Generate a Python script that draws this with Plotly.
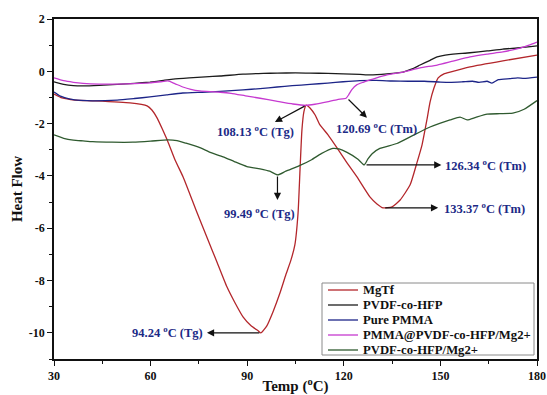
import plotly.graph_objects as go

# ---------------- data ----------------
mgtf_x = [30, 32.5, 36.5, 42.1, 53.6, 58.9, 60.4, 62.0, 63.5, 65.4, 67.6, 70.1, 72.9, 75.3, 77.8,
          80.6, 83.7, 86.2, 88.7, 91.2, 93.4, 94.24, 96.1, 98.0, 100.2, 102.0, 103.6, 104.8, 105.8,
          106.4, 107.0, 107.6, 108.3, 109.5, 111.1, 112.6, 115.1, 117.9, 121.0, 124.1, 128.1,
          130.3, 132.2, 135.0, 137.5, 140.6, 142.7, 144.3, 145.8, 146.8, 148.0, 149.3, 151.1,
          153.0, 159.2, 169.4, 180.0]
mgtf_y = [-0.87, -1.02, -1.10, -1.13, -1.21, -1.32, -1.48, -1.78, -2.17, -2.70, -3.39, -4.04, -4.92,
          -5.68, -6.44, -7.29, -8.24, -8.85, -9.39, -9.73, -9.92, -10.0, -9.73, -9.20, -8.47, -7.78,
          -7.21, -6.64, -5.41, -3.77, -2.24, -1.55, -1.29, -1.40, -1.67, -2.05, -2.43, -2.93, -3.50,
          -4.04, -4.80, -5.07, -5.22, -5.18, -4.92, -4.34, -3.50, -2.81, -1.86, -1.17, -0.64, -0.25,
          -0.10, -0.03, 0.17, 0.40, 0.62]

pvdf_x = [30, 33, 36, 39, 44, 49.6, 55, 59.8, 64, 67, 72, 77, 81.6, 88.7, 95, 99.3, 105, 109.5,
          115, 119.8, 125, 128.1, 133.4, 138.4, 141, 143.7, 146.8, 149, 151.5, 153.9, 159.2,
          164.5, 169.4, 174.7, 180]
pvdf_y = [-0.40, -0.50, -0.55, -0.56, -0.54, -0.50, -0.46, -0.41, -0.35, -0.30, -0.25, -0.21,
          -0.18, -0.11, -0.08, -0.07, -0.06, -0.07, -0.08, -0.10, -0.12, -0.14, -0.10, -0.03,
          0.08, 0.24, 0.42, 0.55, 0.62, 0.66, 0.71, 0.78, 0.85, 0.90, 0.97]

pmma_x = [30, 32, 35, 38.5, 42, 49.6, 55, 59.8, 65, 70, 76, 81.6, 88.7, 94, 99.3, 104, 109.5, 115,
          119.8, 125, 130, 135, 140, 145, 150, 153, 157, 160, 162, 164.5, 166, 168, 171.6, 174,
          176, 180]
pmma_y = [-0.79, -0.95, -1.06, -1.11, -1.13, -1.10, -1.04, -0.98, -0.90, -0.83, -0.80, -0.77,
          -0.71, -0.66, -0.60, -0.55, -0.50, -0.45, -0.40, -0.36, -0.35, -0.37, -0.38, -0.38,
          -0.41, -0.42, -0.40, -0.38, -0.42, -0.38, -0.45, -0.32, -0.28, -0.25, -0.27, -0.22]

blend_x = [30, 33, 36, 39, 44, 49.6, 55, 59.8, 63, 65.4, 67.5, 70, 72.5, 75.3, 78.5, 81.6, 85, 90,
           94, 99, 104.2, 108.13, 111, 114.8, 118, 120.69, 121.5, 122.5, 124, 126, 128.1, 130.2,
           133.4, 138.4, 143.7, 149, 153.9, 159.2, 164.5, 169.4, 174.7, 177.5, 180]
blend_y = [-0.25, -0.36, -0.42, -0.46, -0.49, -0.49, -0.47, -0.44, -0.40, -0.37, -0.47, -0.60,
           -0.69, -0.75, -0.78, -0.80, -0.84, -0.95, -1.03, -1.14, -1.25, -1.30, -1.26, -1.17,
           -1.08, -1.03, -0.90, -0.70, -0.52, -0.42, -0.33, -0.25, -0.14, -0.03, 0.13, 0.24,
           0.39, 0.55, 0.66, 0.74, 0.89, 1.00, 1.12]

mg_x = [30, 33, 36, 39, 42, 48, 54.5, 60, 65.4, 68.2, 71, 75.3, 78.5, 82.5, 86, 89.9, 94, 97,
        99.49, 102, 106.4, 110, 113, 116.6, 118.5, 121, 124.4, 126.34, 127.5, 128.8, 131.2, 136.5,
        141.5, 146.8, 150, 153, 156.1, 158.3, 161, 164.5, 168.5, 172.5, 176, 180]
mg_y = [-2.43, -2.56, -2.63, -2.66, -2.69, -2.71, -2.71, -2.67, -2.62, -2.65, -2.75, -2.92,
        -3.10, -3.27, -3.45, -3.64, -3.73, -3.82, -3.96, -3.82, -3.60, -3.38, -3.15, -2.95,
        -2.97, -3.10, -3.36, -3.58, -3.35, -3.15, -2.95, -2.76, -2.45, -2.13, -1.98, -1.86,
        -1.75, -1.86, -1.76, -1.64, -1.62, -1.60, -1.45, -1.12]

series_names = ["MgTf", "PVDF-co-HFP", "Pure PMMA", "PMMA@PVDF-co-HFP/Mg2+", "PVDF-co-HFP/Mg2+"]
series_colors = ["#b3262b", "#1c1c1c", "#1d2588", "#c63ad0", "#2f5a2f"]

x_ticks = [30, 60, 90, 120, 150, 180]
x_ticklabels = ["30", "60", "90", "120", "150", "180"]
y_ticks = [2, 0, -2, -4, -6, -8, -10]
y_ticklabels = ["2", "0", "-2", "-4", "-6", "-8", "-10"]

# annotations: label text, label position, anchor, arrow tail (curve point), arrow head
ann_labels = ["108.13 <sup>o</sup>C (Tg)", "120.69 <sup>o</sup>C (Tm)", "99.49 <sup>o</sup>C (Tg)",
              "94.24 <sup>o</sup>C (Tg)", "126.34 <sup>o</sup>C (Tm)", "133.37 <sup>o</sup>C (Tm)"]
ann_text_x = [92.7, 130.0, 93.7, 76.8, 150.9, 150.6]
ann_text_y = [-2.30, -2.15, -5.43, -9.98, -3.58, -5.22]
ann_anchor = ["center", "center", "center", "right", "left", "left"]
arrow_tail_x = [108.3, 121.0, 99.4, 94.24, 126.6, 132.4]
arrow_tail_y = [-1.30, -1.02, -3.96, -10.0, -3.58, -5.22]
arrow_head_x = [98.6, 127.2, 99.4, 77.5, 150.3, 149.3]
arrow_head_y = [-1.94, -1.78, -4.92, -10.0, -3.58, -5.22]

FONT = "Liberation Serif"
TXT = "#1c2a86"
AX = "#111111"

# plot-area geometry in pixels (used to place the hand-drawn legend)
W, H = 547, 395
ML, MR, MT, MB = 54, 10, 19, 36
PW, PH = W - ML - MR, H - MT - MB


def px_to_paper_x(px):
    return (px - ML) / PW


def px_to_paper_y(py):
    return (H - MB - py) / PH


fig = go.Figure()
for nm, xs, ys, col in zip(series_names,
                           [mgtf_x, pvdf_x, pmma_x, blend_x, mg_x],
                           [mgtf_y, pvdf_y, pmma_y, blend_y, mg_y],
                           series_colors):
    fig.add_trace(go.Scatter(x=xs, y=ys, mode="lines", name=nm, showlegend=False,
                             line=dict(color=col, width=1.3, shape="spline", smoothing=0.5)))

annotations = []
for tx, ty, hx, hy in zip(arrow_tail_x, arrow_tail_y, arrow_head_x, arrow_head_y):
    annotations.append(dict(x=hx, y=hy, ax=tx, ay=ty, xref="x", yref="y", axref="x", ayref="y",
                            text="", showarrow=True, arrowhead=2, arrowsize=1.2, arrowwidth=1.2,
                            arrowcolor=AX, standoff=0, startstandoff=0))
for lab, tx, ty, anc in zip(ann_labels, ann_text_x, ann_text_y, ann_anchor):
    annotations.append(dict(x=tx, y=ty, xref="x", yref="y", text=lab, showarrow=False,
                            xanchor=anc, yanchor="middle",
                            font=dict(family=FONT, size=12.5, color=TXT, weight="bold")))

# hand-drawn legend (compact, like the reference)
shapes = [dict(type="rect", xref="paper", yref="paper",
               x0=px_to_paper_x(322), x1=px_to_paper_x(534),
               y0=px_to_paper_y(355), y1=px_to_paper_y(283),
               line=dict(color="#8a8a8a", width=1), fillcolor="white", layer="above")]
row0, rowstep = 290, 15
for i, (nm, col) in enumerate(zip(series_names, series_colors)):
    ry = px_to_paper_y(row0 + i * rowstep)
    shapes.append(dict(type="line", xref="paper", yref="paper",
                       x0=px_to_paper_x(328), x1=px_to_paper_x(358), y0=ry, y1=ry,
                       line=dict(color=col, width=1.3), layer="above"))
    annotations.append(dict(x=px_to_paper_x(361), y=ry, xref="paper", yref="paper",
                            text=nm, showarrow=False, xanchor="left", yanchor="middle",
                            font=dict(family=FONT, size=12.7, color=AX, weight="bold")))

fig.update_layout(
    width=W, height=H,
    margin=dict(l=ML, r=MR, t=MT, b=MB),
    paper_bgcolor="white", plot_bgcolor="white",
    font=dict(family=FONT, color=AX, weight="bold"),
    showlegend=False,
    annotations=annotations,
    shapes=shapes,
    xaxis=dict(range=[30, 180], tickvals=x_ticks, ticktext=x_ticklabels, ticks="outside",
               ticklen=5, tickwidth=1.3, tickcolor=AX, automargin=False,
               minor=dict(dtick=15, tick0=30, ticks="outside", ticklen=3, tickcolor=AX),
               showline=True, linecolor=AX, linewidth=1.5, mirror=True,
               showgrid=False, zeroline=False,
               tickfont=dict(family=FONT, size=12, color=AX, weight="bold"),
               title=dict(text="Temp (<sup>o</sup>C)", standoff=4,
                          font=dict(family=FONT, size=15, color=AX, weight="bold"))),
    yaxis=dict(range=[-11, 2], tickvals=y_ticks, ticktext=y_ticklabels, ticks="outside",
               ticklen=5, tickwidth=1.3, tickcolor=AX, automargin=False,
               minor=dict(dtick=1, tick0=0, ticks="outside", ticklen=3, tickcolor=AX),
               showline=True, linecolor=AX, linewidth=1.5, mirror=True,
               showgrid=False, zeroline=False,
               tickfont=dict(family=FONT, size=12, color=AX, weight="bold"),
               title=dict(text="Heat Flow", standoff=3,
                          font=dict(family=FONT, size=15, color=AX, weight="bold"))),
)

fig.write_html("out.html", config={"displayModeBar": False},
               post_script="document.body.style.margin='0px';document.body.style.padding='0px';")
